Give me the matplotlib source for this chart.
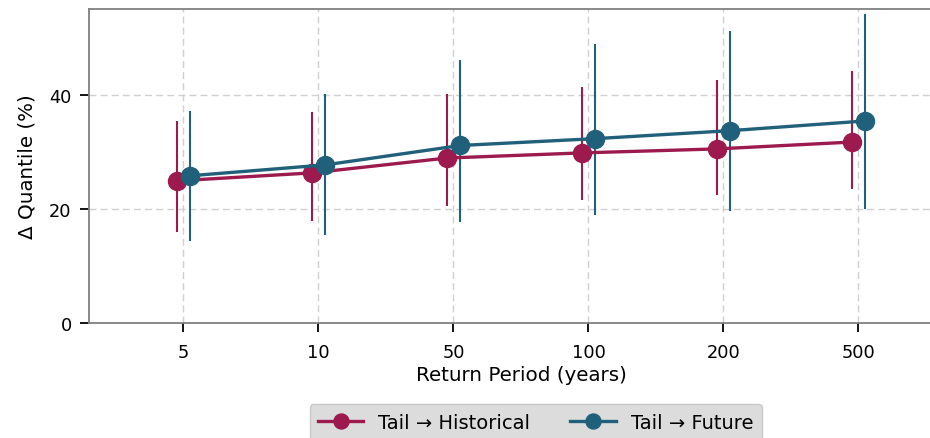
import numpy as np
import matplotlib.pyplot as plt

# return periods (categorical x axis)
periods = ["5", "10", "50", "100", "200", "500"]

# Tail -> Historical
hist_mean = [24.9, 26.3, 28.9, 29.8, 30.5, 31.7]
hist_low = [16.0, 17.9, 20.5, 21.6, 22.5, 23.5]
hist_high = [35.4, 37.0, 40.2, 41.4, 42.6, 44.2]

# Tail -> Future
fut_mean = [25.8, 27.7, 31.1, 32.3, 33.7, 35.4]
fut_low = [14.4, 15.4, 17.7, 18.9, 19.6, 20.0]
fut_high = [37.2, 40.2, 46.1, 48.9, 51.2, 54.2]

hist_color = "#9c1a4e"
fut_color = "#21607a"

fig = plt.figure(figsize=(9.3, 4.39), dpi=100)
ax = fig.add_axes([0.0957, 0.262, 0.929, 0.715])

x = np.arange(len(periods))
dodge = 0.05

series = [
    ("Tail \u2192 Historical", hist_mean, hist_low, hist_high, hist_color, -dodge),
    ("Tail \u2192 Future", fut_mean, fut_low, fut_high, fut_color, dodge),
]
for label, mean, low, high, color, off in series:
    # error bars (interval), then the mean line with markers
    ax.vlines(x + off, low, high, color=color, linewidth=1.5, zorder=3)
    ax.plot(x + off, mean, color=color, marker="o", markersize=13,
            linewidth=2.4, label=label, zorder=4)

ax.set_xticks(x)
ax.set_xticklabels(periods)
ax.set_xlim(-0.7, 5.7)
ax.set_ylim(0, 55)
ax.set_yticks([0, 20, 40])

ax.grid(True, linestyle="--", color="#d0d0d0", linewidth=1.0, dashes=(5, 3))
ax.set_axisbelow(True)
for s in ax.spines.values():
    s.set_color("#808080")
    s.set_linewidth(1.3)

ax.tick_params(axis="both", direction="out", length=6.5, width=1.3, colors="black",
               labelsize=12.8, pad=6)
ax.tick_params(axis="x", pad=8)
ax.set_xlabel("Return Period (years)", fontsize=14.3, labelpad=3)
ax.set_ylabel("\u0394 Quantile (%)", fontsize=14.3, labelpad=9)

leg = fig.legend(loc="upper center", bbox_to_anchor=(0.576, 0.0774), ncol=2,
                 fontsize=14, frameon=True, facecolor="#dcdcdc", edgecolor="#c8c8c8",
                 borderpad=0.45, borderaxespad=0, columnspacing=2.06, handlelength=2.32,
                 handletextpad=0.77, markerscale=0.83)
leg.get_frame().set_alpha(1)

fig.savefig("out.png", dpi=100)
